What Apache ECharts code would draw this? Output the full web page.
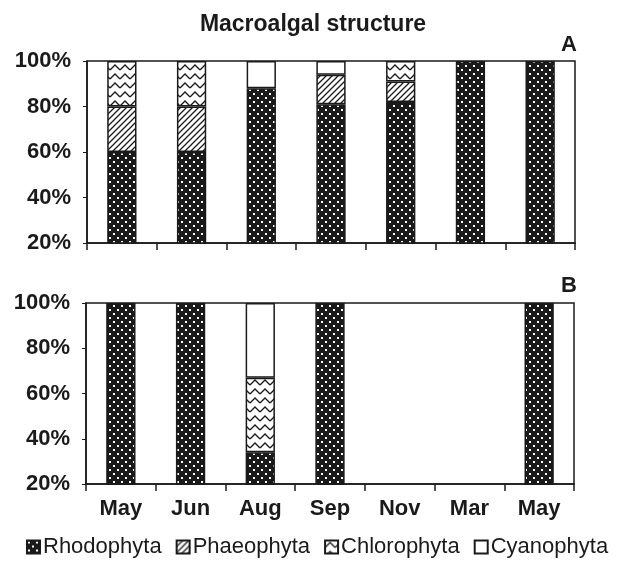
<!DOCTYPE html>
<html>
<head>
<meta charset="UTF-8">
<title>Macroalgal structure</title>
<style>
  html, body { margin: 0; padding: 0; background: #fff; }
  #main { width: 626px; height: 562px; }
</style>
</head>
<body>
<div id="main"></div>
<script src="https://cdn.jsdelivr.net/npm/echarts@6/dist/echarts.min.js"></script>
<script>
  var months = ['May', 'Jun', 'Aug', 'Sep', 'Nov', 'Mar', 'May'];
  var groups = ['Rhodophyta', 'Phaeophyta', 'Chlorophyta', 'Cyanophyta'];
  var yTicks = [20, 40, 60, 80, 100];

  // panel A, percent of each group
  var rhodoA = [60, 60, 88, 81, 82, 100, 100];
  var phaeoA = [20, 20, 0, 13, 9, 0, 0];
  var chloroA = [20, 20, 0, 0, 9, 0, 0];
  var cyanoA = [0, 0, 12, 6, 0, 0, 0];

  // panel B
  var rhodoB = [100, 100, 34, 100, 0, 0, 100];
  var phaeoB = [0, 0, 0, 0, 0, 0, 0];
  var chloroB = [0, 0, 33, 0, 0, 0, 0];
  var cyanoB = [0, 0, 33, 0, 0, 0, 0];

  function tile(w, h, draw) {
    var c = document.createElement('canvas');
    c.width = w; c.height = h;
    var ctx = c.getContext('2d');
    draw(ctx);
    return c;
  }

  // black with white dots
  var dots = tile(8, 8, function (ctx) {
    ctx.fillStyle = '#1a1a1a';
    ctx.fillRect(0, 0, 8, 8);
    ctx.fillStyle = '#fff';
    ctx.fillRect(1, 1, 2, 2);
    ctx.fillRect(5, 5, 2, 2);
  });
  // diagonal hatching
  var hatch = tile(6, 6, function (ctx) {
    ctx.fillStyle = '#fff';
    ctx.fillRect(0, 0, 6, 6);
    ctx.strokeStyle = '#1a1a1a';
    ctx.lineWidth = 1.3;
    ctx.beginPath();
    ctx.moveTo(-1, 7); ctx.lineTo(7, -1);
    ctx.moveTo(-4, 4); ctx.lineTo(4, -4);
    ctx.moveTo(2, 10); ctx.lineTo(10, 2);
    ctx.stroke();
  });
  // zigzag waves
  var waves = tile(10, 9, function (ctx) {
    ctx.fillStyle = '#fff';
    ctx.fillRect(0, 0, 10, 9);
    ctx.strokeStyle = '#1a1a1a';
    ctx.lineWidth = 1.4;
    ctx.beginPath();
    ctx.moveTo(0, 7); ctx.lineTo(5, 2); ctx.lineTo(10, 7);
    ctx.stroke();
  });

  var fills = [
    { image: dots, repeat: 'repeat' },
    { image: hatch, repeat: 'repeat' },
    { image: waves, repeat: 'repeat' },
    '#fff'
  ];

  function clean(arr) {
    return arr.map(function (v) { return v === 0 ? null : v; });
  }

  function panelSeries(idx, lists) {
    return lists.map(function (vals, i) {
      return {
        name: groups[i],
        type: 'bar',
        xAxisIndex: idx,
        yAxisIndex: idx,
        stack: 'p' + idx,
        barWidth: '42%',
        data: clean(vals),
        itemStyle: { color: fills[i], borderColor: '#1a1a1a', borderWidth: 1.5 },
        emphasis: { disabled: true }
      };
    });
  }

  var font = 'Liberation Sans, Arial, sans-serif';

  function xAxis(idx, showLabel) {
    return {
      type: 'category',
      gridIndex: idx,
      data: months,
      axisLine: { lineStyle: { color: '#1a1a1a', width: 1.5 } },
      axisTick: { show: true, length: 7, lineStyle: { color: '#1a1a1a', width: 1.5 } },
      axisLabel: {
        show: showLabel, color: '#1a1a1a', fontFamily: font,
        fontWeight: 'bold', fontSize: 22, margin: 14
      }
    };
  }

  function yAxis(idx) {
    return {
      type: 'value',
      gridIndex: idx,
      min: yTicks[0],
      max: yTicks[yTicks.length - 1],
      interval: 20,
      splitLine: { show: false },
      axisLine: { show: true, lineStyle: { color: '#1a1a1a', width: 1.5 } },
      axisTick: { show: true, length: 4, lineStyle: { color: '#1a1a1a' } },
      axisLabel: {
        color: '#1a1a1a', fontFamily: font, fontWeight: 'bold', fontSize: 22,
        margin: 16, formatter: '{value}%'
      }
    };
  }

  var chart = echarts.init(document.getElementById('main'));
  chart.setOption({
    backgroundColor: '#fff',
    animation: false,
    title: [
      { text: 'Macroalgal structure', left: 'center', top: 8,
        textStyle: { fontFamily: font, fontWeight: 'bold', fontSize: 23, color: '#1a1a1a' } },
      { text: 'A', left: 556, top: 29,
        textStyle: { fontFamily: font, fontWeight: 'bold', fontSize: 22, color: '#1a1a1a' } },
      { text: 'B', left: 556, top: 270,
        textStyle: { fontFamily: font, fontWeight: 'bold', fontSize: 22, color: '#1a1a1a' } }
    ],
    grid: [
      { left: 87, right: 51, top: 61, height: 182, show: true, borderColor: '#1a1a1a', borderWidth: 1.5 },
      { left: 86, right: 52, top: 303, height: 181, show: true, borderColor: '#1a1a1a', borderWidth: 1.5 }
    ],
    legend: {
      top: 536,
      left: 26,
      padding: 0,
      itemGap: 14,
      itemWidth: 13,
      itemHeight: 13,
      icon: 'rect',
      data: groups,
      textStyle: { fontFamily: font, fontSize: 22, color: '#1a1a1a', padding: [0, 0, 0, -2] }
    },
    xAxis: [xAxis(0, false), xAxis(1, true)],
    yAxis: [yAxis(0), yAxis(1)],
    series: panelSeries(0, [rhodoA, phaeoA, chloroA, cyanoA])
      .concat(panelSeries(1, [rhodoB, phaeoB, chloroB, cyanoB]))
  });
</script>
</body>
</html>
